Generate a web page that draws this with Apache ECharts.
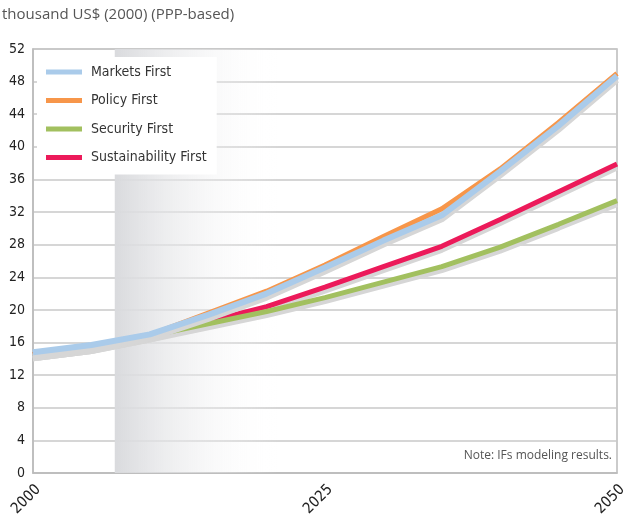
<!DOCTYPE html>
<html>
<head>
<meta charset="utf-8">
<script src="https://cdn.jsdelivr.net/npm/echarts@6/dist/echarts.min.js"></script>
<style>
  html, body { margin: 0; padding: 0; background: #fff; }
  #chart { width: 634px; height: 519px; }
</style>
</head>
<body>
<div id="chart"></div>
<script>
// values, every 5 years
var years = [2000, 2005, 2010, 2015, 2020, 2025, 2030, 2035, 2040, 2045, 2050];
var marketsFirst = [14.8, 15.7, 17.0, 19.4, 22.0, 25.2, 28.5, 31.6, 37.0, 42.6, 48.7];
var policyFirst = [14.5, 15.4, 16.9, 19.6, 22.3, 25.5, 29.0, 32.4, 37.3, 43.0, 49.0];
var securityFirst = [14.5, 15.4, 16.8, 18.3, 19.8, 21.5, 23.4, 25.3, 27.7, 30.5, 33.4];
var sustainabilityFirst = [14.5, 15.4, 16.8, 18.6, 20.4, 22.8, 25.3, 27.8, 31.1, 34.5, 37.9];
var seriesNames = ["Markets First", "Policy First", "Security First", "Sustainability First"];
var shadeRange = [2007, 2021];

var condFont = "'DejaVu Sans Condensed', sans-serif";

function pairs(vals) {
  return years.map(function (y, i) { return [y, vals[i]]; });
}

function makeLine(name, vals, color, width, z) {
  return {
    name: name,
    type: "line",
    data: pairs(vals),
    symbol: "none",
    z: z,
    lineStyle: {
      color: color,
      width: width,
      shadowColor: "#d6d6d6",
      shadowBlur: 0,
      shadowOffsetY: 4
    },
    itemStyle: { color: color }
  };
}

var myChart = echarts.init(document.getElementById("chart"));
var option = {
  animation: false,
  graphic: [
    {
      type: "text",
      left: 2,
      top: 7,
      style: { text: "thousand US$ (2000) (PPP-based)", fill: "#555", font: "15px 'Open Sans', sans-serif" }
    },
    {
      type: "text",
      right: 22,
      top: 450,
      style: { text: "Note: IFs modeling results.", fill: "#555", font: "12px 'Open Sans', sans-serif" }
    }
  ],
  legend: {
    data: seriesNames,
    orient: "vertical",
    left: 37,
    top: 57,
    backgroundColor: "#fff",
    padding: [8, 10, 10, 9],
    itemGap: 14.5,
    itemWidth: 36,
    itemHeight: 5,
    icon: "rect",
    textStyle: { fontFamily: condFont, fontSize: 14, color: "#333", padding: [0, 0, 0, 4] },
    z: 10
  },
  grid: {
    left: 33,
    right: 17,
    top: 49,
    bottom: 44,
    show: true,
    borderColor: "#bbb",
    borderWidth: 1.5
  },
  xAxis: {
    type: "value",
    min: 2000,
    max: 2050,
    interval: 25,
    axisLine: { show: true, lineStyle: { color: "#bbb", width: 1.5 } },
    axisTick: { show: false },
    splitLine: { show: false },
    axisLabel: {
      rotate: 45,
      margin: 9,
      verticalAlign: "top",
      fontFamily: condFont,
      fontSize: 15,
      color: "#222",
      formatter: function (v) { return String(v); }
    }
  },
  yAxis: {
    type: "value",
    min: 0,
    max: 52,
    interval: 4,
    axisLine: { show: true, lineStyle: { color: "#bbb", width: 1.5 } },
    axisTick: { show: false },
    splitLine: { lineStyle: { color: "#c8c8c8", width: 1.5 } },
    axisLabel: { margin: 8, fontFamily: condFont, fontSize: 14, color: "#222" }
  },
  series: [
    makeLine(seriesNames[3], sustainabilityFirst, "#ec1a5a", 5, 2),
    makeLine(seriesNames[2], securityFirst, "#a2c05f", 5, 3),
    makeLine(seriesNames[1], policyFirst, "#f7964a", 5, 4),
    makeLine(seriesNames[0], marketsFirst, "#aacbea", 6, 5),
    {
      type: "line",
      data: [],
      silent: true,
      z: 1,
      markArea: {
        silent: true,
        itemStyle: {
          color: new echarts.graphic.LinearGradient(0, 0, 1, 0, [
            { offset: 0, color: "#d9dadd" },
            { offset: 1, color: "rgba(255,255,255,0)" }
          ])
        },
        data: [[{ xAxis: shadeRange[0] }, { xAxis: shadeRange[1] }]]
      }
    }
  ]
};
myChart.setOption(option);
</script>
</body>
</html>
